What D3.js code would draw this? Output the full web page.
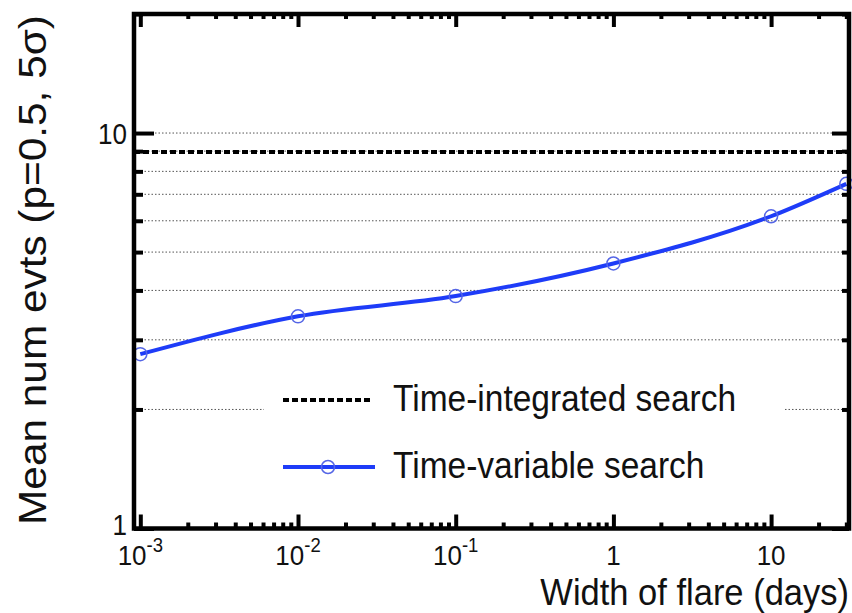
<!DOCTYPE html>
<html>
<head>
<meta charset="utf-8">
<script src="https://cdn.jsdelivr.net/npm/d3@7"></script>
<style>
  html, body { margin: 0; padding: 0; background: #fff; }
  svg { display: block; font-family: "Liberation Sans", Arial, sans-serif; }
</style>
</head>
<body>
<svg id="chart" width="852" height="613"></svg>
<script>
// Flare width (days) at which the sensitivity was evaluated
const flareWidths = [0.001, 0.01, 0.1, 1, 10, 30];
// Mean number of events needed (p=0.5, 5 sigma) for the time-variable search
const timeVariable = [2.76, 3.44, 3.87, 4.68, 6.16, 7.44];
// Constant level for the time-integrated search
const timeIntegrated = 8.95;

// Axis ticks and labels
const xMajorTicks = [0.001, 0.01, 0.1, 1, 10];
const xTickBase = ["10", "10", "10", "1", "10"];
const xTickExp = ["-3", "-2", "-1", "", ""];
const yMajorTicks = [1, 10];
const yTickLabels = ["1", "10"];
const yGridValues = [2, 3, 4, 5, 6, 7, 8, 9, 10];

const legendLabels = ["Time-integrated search", "Time-variable search"];
const xTitle = "Width of flare (days)";
const yTitle = "Mean num evts (p=0.5, 5\u03C3)";

const svg = d3.select("#chart");

const plotL = 134, plotR = 849, plotT = 14, plotB = 528.5;

const x = d3.scaleLog()
  .domain([Math.pow(10, -3.04), Math.pow(10, 1.494)])
  .range([plotL, plotR]);
const y = d3.scaleLog()
  .domain([1, 20])
  .range([plotB, plotT]);

// minor tick values for each decade in range
function minorTicks(scale) {
  const [a, b] = scale.domain();
  const out = [];
  for (let e = Math.floor(Math.log10(a)); e <= Math.ceil(Math.log10(b)); e++) {
    for (let m = 2; m <= 9; m++) {
      const v = m * Math.pow(10, e);
      if (v >= a * 0.999 && v <= b * 1.001) out.push(v);
    }
  }
  return out;
}
const xMinor = minorTicks(x);
const yMinor = minorTicks(y);

// dotted horizontal grid
svg.append("g")
  .selectAll("line")
  .data(yGridValues)
  .join("line")
  .attr("x1", plotL).attr("x2", plotR)
  .attr("y1", d => y(d)).attr("y2", d => y(d))
  .attr("stroke", "#555")
  .attr("stroke-width", 1)
  .attr("stroke-dasharray", "1.5,2");

// legend background
svg.append("rect")
  .attr("x", 264).attr("y", 358)
  .attr("width", 520).attr("height", 145)
  .attr("fill", "#fff");

// time-integrated level
svg.append("line")
  .attr("x1", plotL).attr("x2", plotR)
  .attr("y1", y(timeIntegrated)).attr("y2", y(timeIntegrated))
  .attr("stroke", "#000")
  .attr("stroke-width", 4)
  .attr("stroke-dasharray", "6,3");

// time-variable curve
const pts = flareWidths.map((w, i) => [x(w), y(timeVariable[i])]);
svg.append("path")
  .attr("d", d3.line().curve(d3.curveMonotoneX)(pts))
  .attr("fill", "none")
  .attr("stroke", "#1e3cf8")
  .attr("stroke-width", 4);

svg.append("g")
  .selectAll("circle")
  .data(pts)
  .join("circle")
  .attr("cx", d => d[0]).attr("cy", d => d[1])
  .attr("r", 6.5)
  .attr("fill", "none")
  .attr("stroke", "#5566e6")
  .attr("stroke-width", 1.5);

// axes with inward ticks
function styleAxis(g) {
  g.select(".domain").remove();
  g.selectAll(".tick line").attr("stroke", "#000").attr("stroke-width", 4);
  g.selectAll(".tick text").remove();
}
svg.append("g").attr("transform", `translate(0,${plotB})`)
  .call(d3.axisBottom(x).tickValues(xMajorTicks).tickSize(-14)).call(styleAxis);
svg.append("g").attr("transform", `translate(0,${plotB})`)
  .call(d3.axisBottom(x).tickValues(xMinor).tickSize(-6)).call(styleAxis);
svg.append("g").attr("transform", `translate(0,${plotT})`)
  .call(d3.axisTop(x).tickValues(xMajorTicks).tickSize(-13)).call(styleAxis);
svg.append("g").attr("transform", `translate(0,${plotT})`)
  .call(d3.axisTop(x).tickValues(xMinor).tickSize(-5)).call(styleAxis);
svg.append("g").attr("transform", `translate(${plotL},0)`)
  .call(d3.axisLeft(y).tickValues(yMajorTicks).tickSize(-20)).call(styleAxis);
svg.append("g").attr("transform", `translate(${plotL},0)`)
  .call(d3.axisLeft(y).tickValues(yMinor).tickSize(-9)).call(styleAxis);
svg.append("g").attr("transform", `translate(${plotR},0)`)
  .call(d3.axisRight(y).tickValues(yMajorTicks).tickSize(-17)).call(styleAxis);
svg.append("g").attr("transform", `translate(${plotR},0)`)
  .call(d3.axisRight(y).tickValues(yMinor).tickSize(-7)).call(styleAxis);

// frame
svg.append("rect")
  .attr("x", plotL).attr("y", plotT)
  .attr("width", plotR - plotL).attr("height", plotB - plotT)
  .attr("fill", "none")
  .attr("stroke", "#000")
  .attr("stroke-width", 4.5);

// place a text item at (px, py), with glyphs stretched vertically by k
function stretched(sel, px, py, k) {
  return sel.attr("transform", `translate(${px},${py}) scale(1,${k})`);
}

// x tick labels
const xl = svg.append("g").attr("font-size", 26).attr("fill", "#111");
xMajorTicks.forEach((v, i) => {
  const t = stretched(xl.append("text"), x(v), 565, 1.05)
    .attr("text-anchor", "middle");
  t.append("tspan").text(xTickBase[i]);
  if (xTickExp[i]) {
    t.append("tspan").attr("dy", -12).attr("font-size", 18.5).text(xTickExp[i]);
  }
});

// y tick labels
yMajorTicks.forEach((v, i) => {
  stretched(svg.append("text"), 127, i === 0 ? 535 : y(v) + 11, 1.1)
    .attr("text-anchor", "end")
    .attr("font-size", 26)
    .attr("fill", "#111")
    .text(yTickLabels[i]);
});

// axis titles
stretched(svg.append("text"), 849, 605, 1.06)
  .attr("text-anchor", "end")
  .attr("font-size", 34.5)
  .attr("fill", "#111")
  .text(xTitle);

svg.append("text")
  .attr("transform", "translate(46,270) scale(1,1.1) rotate(-90)")
  .attr("text-anchor", "middle")
  .attr("font-size", 38.5)
  .attr("fill", "#111")
  .text(yTitle);

// legend
const lg = svg.append("g");
lg.append("line")
  .attr("x1", 283).attr("x2", 370).attr("y1", 400).attr("y2", 400)
  .attr("stroke", "#000").attr("stroke-width", 4).attr("stroke-dasharray", "6,3");
lg.append("line")
  .attr("x1", 283).attr("x2", 375).attr("y1", 467).attr("y2", 467)
  .attr("stroke", "#1e3cf8").attr("stroke-width", 4);
lg.append("circle")
  .attr("cx", 328).attr("cy", 467).attr("r", 6.5)
  .attr("fill", "none").attr("stroke", "#5566e6").attr("stroke-width", 1.5);
legendLabels.forEach((label, i) => {
  stretched(lg.append("text"), 393, 411 + i * 67, 1.1)
    .attr("font-size", 33.5)
    .attr("fill", "#111")
    .text(label);
});
</script>
</body>
</html>
